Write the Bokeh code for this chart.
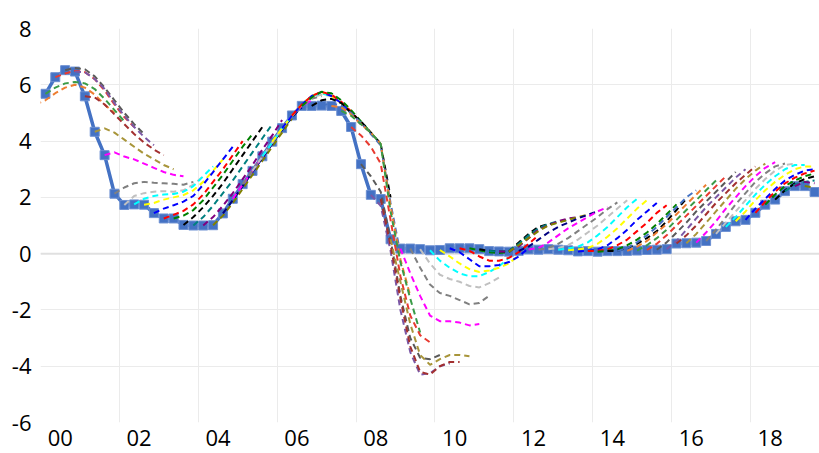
from bokeh.plotting import figure
from bokeh.models import FixedTicker, Span
from bokeh.embed import file_html
from bokeh.resources import INLINE

# Quarterly effective fed funds rate, 2000Q1 .. 2019Q3 (x = quarter index, 0 = 2000Q1)
fed_funds = [
    5.68, 6.27, 6.52, 6.47,
    5.59, 4.33, 3.50, 2.13,
    1.73, 1.75, 1.74, 1.44,
    1.25, 1.25, 1.02, 1.00,
    1.00, 1.01, 1.43, 1.95,
    2.47, 2.94, 3.46, 3.98,
    4.46, 4.91, 5.25, 5.25,
    5.26, 5.25, 5.07, 4.50,
    3.18, 2.09, 1.94, 0.51,
    0.18, 0.18, 0.16, 0.12,
    0.13, 0.19, 0.19, 0.19,
    0.16, 0.09, 0.08, 0.07,
    0.10, 0.15, 0.14, 0.16,
    0.14, 0.12, 0.08, 0.09,
    0.07, 0.09, 0.09, 0.10,
    0.11, 0.13, 0.14, 0.16,
    0.36, 0.37, 0.39, 0.45,
    0.70, 0.95, 1.15, 1.20,
    1.45, 1.74, 1.92, 2.22,
    2.40, 2.40, 2.19,
]

year_labels = ["00", "02", "04", "06", "08", "10", "12", "14", "16", "18"]
y_ticks = [-6, -4, -2, 0, 2, 4, 6, 8]

palette = [
    "#3A9B47", "#E83A30", "#5A5A5A", "#7B58A6", "#A33030", "#A8953A",
    "#FF00FF", "#808080", "#C0C0C0", "#00FFFF", "#FFFF00", "#0000FF",
    "#FF0000", "#008000", "#000000", "#008080", "#800080", "#808000",
    "#000080", "#FF00FF", "#808080", "#C0C0C0", "#00FFFF", "#FFFF00",
    "#0000FF", "#FF0000", "#008000", "#000000", "#4472C4", "#ED7D31",
]

# Expected paths, each starting at quarter index s and running 8 quarters ahead
path_m1 = [5.30, 5.45, 5.70, 5.90, 6.00, 5.90, 5.65, 5.30, 5.00]
path_00 = [5.68, 5.90, 6.05, 6.10, 6.05, 5.85, 5.50, 5.10, 4.70]
path_01 = [6.27, 6.40, 6.50, 6.45, 6.20, 5.80, 5.30, 4.85, 4.50]
path_02 = [6.52, 6.60, 6.55, 6.30, 5.90, 5.45, 5.00, 4.60, 4.25]
path_03 = [6.47, 6.45, 6.20, 5.85, 5.35, 4.90, 4.50, 4.15, 3.85]
path_04 = [5.59, 5.55, 5.30, 4.95, 4.60, 4.25, 3.95, 3.70, 3.50]
path_05 = [4.33, 4.45, 4.30, 4.05, 3.80, 3.55, 3.35, 3.15, 3.00]
path_06 = [3.50, 3.60, 3.45, 3.35, 3.20, 3.05, 2.90, 2.80, 2.75]
path_07 = [2.13, 2.35, 2.50, 2.55, 2.52, 2.50, 2.48, 2.45, 2.55]
path_08 = [1.73, 2.05, 2.15, 2.20, 2.22, 2.20, 2.25, 2.45, 2.75]
path_09 = [1.75, 1.95, 2.05, 2.10, 2.12, 2.20, 2.40, 2.75, 3.10]
path_10 = [1.74, 1.80, 1.92, 2.00, 2.08, 2.25, 2.55, 2.95, 3.35]
path_11 = [1.44, 1.60, 1.72, 1.85, 2.05, 2.45, 2.90, 3.35, 3.80]
path_12 = [1.25, 1.38, 1.52, 1.75, 2.10, 2.55, 3.00, 3.50, 4.00]
path_13 = [1.25, 1.35, 1.55, 1.90, 2.35, 2.80, 3.30, 3.80, 4.25]
path_14 = [1.02, 1.30, 1.65, 2.05, 2.50, 3.00, 3.50, 4.00, 4.50]
path_15 = [1.00, 1.30, 1.70, 2.15, 2.60, 3.10, 3.60, 4.10, 4.60]
path_16 = [1.00, 1.30, 1.70, 2.15, 2.65, 3.15, 3.70, 4.20, 4.75]
path_17 = [1.01, 1.35, 1.80, 2.30, 2.80, 3.30, 3.80, 4.30, 4.80]
path_18 = [1.43, 1.90, 2.40, 2.90, 3.40, 3.90, 4.40, 4.85, 5.20]
path_19 = [1.95, 2.45, 2.95, 3.45, 3.95, 4.45, 4.90, 5.25, 5.45]
path_20 = [2.47, 2.95, 3.45, 3.95, 4.45, 4.90, 5.25, 5.50, 5.60]
path_21 = [2.94, 3.45, 3.95, 4.45, 4.90, 5.30, 5.55, 5.65, 5.60]
path_22 = [3.46, 3.95, 4.45, 4.90, 5.30, 5.60, 5.70, 5.60, 5.40]
path_23 = [3.98, 4.45, 4.90, 5.30, 5.60, 5.75, 5.60, 5.35, 5.05]
path_24 = [4.46, 4.90, 5.30, 5.60, 5.75, 5.60, 5.35, 5.00, 4.60]
path_25 = [4.91, 5.30, 5.60, 5.75, 5.65, 5.40, 5.05, 4.65, 4.30]
path_26 = [5.25, 5.55, 5.75, 5.70, 5.45, 5.10, 4.70, 4.30, 3.90]
path_27 = [5.25, 5.45, 5.50, 5.35, 5.00, 4.70, 4.30, 3.90, 2.00]
path_28 = [5.26, 5.35, 5.25, 5.00, 4.65, 4.25, 3.85, 1.80, 0.00]
path_29 = [5.25, 5.20, 4.95, 4.60, 4.30, 3.90, 1.70, -0.20, -1.50]
path_30 = [5.07, 4.90, 4.60, 4.30, 3.90, 1.50, -0.30, -1.60, -2.80]
path_31 = [4.50, 4.20, 3.80, 3.20, 1.20, -0.80, -2.20, -2.90, -3.15]
path_32 = [3.18, 2.75, 2.20, 0.50, -1.50, -3.00, -3.70, -3.75, -3.60]
path_33 = [2.09, 1.70, 0.10, -2.00, -3.50, -4.30, -4.25, -4.00, -3.90]
path_34 = [1.94, 0.30, -1.60, -3.30, -4.20, -4.30, -4.00, -3.85, -3.85]
path_35 = [0.51, -1.00, -2.50, -3.60, -3.95, -3.75, -3.60, -3.60, -3.65]
path_36 = [0.18, -0.70, -1.50, -2.20, -2.40, -2.40, -2.45, -2.55, -2.50]
path_37 = [0.18, -0.50, -1.10, -1.40, -1.50, -1.65, -1.80, -1.75, -1.50]
path_38 = [0.16, -0.35, -0.75, -0.90, -1.00, -1.15, -1.20, -1.05, -0.85]
path_39 = [0.12, -0.25, -0.50, -0.70, -0.80, -0.80, -0.65, -0.45, -0.15]
path_40 = [0.13, -0.10, -0.35, -0.55, -0.65, -0.60, -0.50, -0.35, -0.05]
path_41 = [0.19, 0.05, -0.20, -0.45, -0.45, -0.40, -0.30, -0.10, 0.20]
path_42 = [0.19, 0.10, -0.10, -0.25, -0.25, -0.15, 0.05, 0.35, 0.65]
path_43 = [0.19, 0.12, 0.05, 0.02, 0.05, 0.35, 0.65, 0.90, 1.05]
path_44 = [0.16, 0.10, 0.08, 0.08, 0.40, 0.70, 0.95, 1.05, 1.10]
path_45 = [0.09, 0.08, 0.10, 0.35, 0.65, 0.90, 1.05, 1.15, 1.20]
path_46 = [0.08, 0.08, 0.25, 0.55, 0.85, 1.00, 1.15, 1.25, 1.30]
path_47 = [0.07, 0.30, 0.55, 0.80, 1.00, 1.10, 1.20, 1.30, 1.38]
path_48 = [0.10, 0.25, 0.50, 0.75, 0.95, 1.10, 1.25, 1.38, 1.50]
path_49 = [0.15, 0.20, 0.40, 0.65, 0.90, 1.10, 1.30, 1.50, 1.65]
path_50 = [0.14, 0.20, 0.35, 0.55, 0.80, 1.05, 1.30, 1.58, 1.82]
path_51 = [0.16, 0.20, 0.30, 0.50, 0.75, 1.00, 1.30, 1.60, 1.90]
path_52 = [0.14, 0.18, 0.25, 0.40, 0.65, 0.95, 1.30, 1.65, 1.95]
path_53 = [0.12, 0.15, 0.20, 0.35, 0.60, 0.90, 1.25, 1.60, 1.90]
path_54 = [0.08, 0.10, 0.15, 0.30, 0.55, 0.85, 1.20, 1.50, 1.80]
path_55 = [0.09, 0.10, 0.15, 0.30, 0.50, 0.80, 1.10, 1.45, 1.72]
path_56 = [0.07, 0.10, 0.15, 0.30, 0.50, 0.75, 1.05, 1.40, 1.75]
path_57 = [0.09, 0.10, 0.20, 0.35, 0.55, 0.80, 1.15, 1.55, 1.95]
path_58 = [0.09, 0.20, 0.40, 0.65, 0.95, 1.30, 1.65, 2.00, 2.25]
path_59 = [0.10, 0.25, 0.45, 0.75, 1.05, 1.40, 1.75, 2.10, 2.45]
path_60 = [0.11, 0.30, 0.55, 0.85, 1.20, 1.55, 1.90, 2.25, 2.60]
path_61 = [0.13, 0.35, 0.65, 1.00, 1.35, 1.70, 2.05, 2.40, 2.75]
path_62 = [0.14, 0.40, 0.75, 1.10, 1.50, 1.85, 2.20, 2.55, 2.90]
path_63 = [0.16, 0.45, 0.85, 1.25, 1.65, 2.00, 2.35, 2.70, 3.00]
path_64 = [0.36, 0.65, 1.00, 1.40, 1.80, 2.15, 2.50, 2.80, 3.10]
path_65 = [0.37, 0.70, 1.10, 1.50, 1.90, 2.30, 2.65, 2.95, 3.20]
path_66 = [0.39, 0.75, 1.15, 1.60, 2.00, 2.40, 2.75, 3.05, 3.25]
path_67 = [0.45, 0.85, 1.30, 1.75, 2.15, 2.55, 2.85, 3.10, 3.20]
path_68 = [0.70, 1.10, 1.50, 1.90, 2.30, 2.65, 2.95, 3.15, 3.20]
path_69 = [0.95, 1.30, 1.70, 2.10, 2.45, 2.75, 3.00, 3.15, 3.15]
path_70 = [1.15, 1.50, 1.90, 2.25, 2.55, 2.80, 3.00, 3.10, 3.10]
path_71 = [1.20, 1.60, 1.95, 2.30, 2.60, 2.80, 2.95, 3.00]
path_72 = [1.45, 1.85, 2.20, 2.50, 2.70, 2.85, 2.95]
path_73 = [1.74, 2.10, 2.40, 2.60, 2.75, 2.85]
path_74 = [1.92, 2.25, 2.50, 2.65, 2.75]
path_75 = [2.22, 2.45, 2.55, 2.60]
path_76 = [2.40, 2.55, 2.50]
path_77 = [2.40, 2.35]

paths = [
    (-1, path_m1), (0, path_00), (1, path_01), (2, path_02), (3, path_03),
    (4, path_04), (5, path_05), (6, path_06), (7, path_07), (8, path_08),
    (9, path_09), (10, path_10), (11, path_11), (12, path_12), (13, path_13),
    (14, path_14), (15, path_15), (16, path_16), (17, path_17), (18, path_18),
    (19, path_19), (20, path_20), (21, path_21), (22, path_22), (23, path_23),
    (24, path_24), (25, path_25), (26, path_26), (27, path_27), (28, path_28),
    (29, path_29), (30, path_30), (31, path_31), (32, path_32), (33, path_33),
    (34, path_34), (35, path_35), (36, path_36), (37, path_37), (38, path_38),
    (39, path_39), (40, path_40), (41, path_41), (42, path_42), (43, path_43),
    (44, path_44), (45, path_45), (46, path_46), (47, path_47), (48, path_48),
    (49, path_49), (50, path_50), (51, path_51), (52, path_52), (53, path_53),
    (54, path_54), (55, path_55), (56, path_56), (57, path_57), (58, path_58),
    (59, path_59), (60, path_60), (61, path_61), (62, path_62), (63, path_63),
    (64, path_64), (65, path_65), (66, path_66), (67, path_67), (68, path_68),
    (69, path_69), (70, path_70), (71, path_71), (72, path_72), (73, path_73),
    (74, path_74), (75, path_75), (76, path_76), (77, path_77),
]

p = figure(
    width=819, height=453, output_backend="svg", toolbar_location=None,
    x_range=(-0.5, 78.5), y_range=(-6, 8),
    min_border_left=40, min_border_right=0, min_border_top=28, min_border_bottom=31,
)
p.outline_line_color = None
p.background_fill_color = "white"
p.border_fill_color = "white"

# grid
p.xgrid.ticker = FixedTicker(ticks=[7.5 + 8 * k for k in range(10)])
p.xgrid.grid_line_color = "#EBEBEB"
p.xgrid.grid_line_width = 1
p.ygrid.ticker = FixedTicker(ticks=y_ticks)
p.ygrid.grid_line_color = "#EBEBEB"
p.ygrid.grid_line_width = 1
zero = Span(location=0, dimension="width", line_color="#E0E0E0", line_width=2, level="underlay")
p.add_layout(zero)

# axes
label_pos = [1.5 + 8 * k for k in range(len(year_labels))]
p.xaxis.ticker = FixedTicker(ticks=label_pos)
p.xaxis.major_label_overrides = {pos: lab for pos, lab in zip(label_pos, year_labels)}
p.yaxis.ticker = FixedTicker(ticks=y_ticks)
p.yaxis.major_label_overrides = {t: str(t) for t in y_ticks}
for ax in (p.xaxis, p.yaxis):
    ax.axis_line_color = None
    ax.major_tick_line_color = None
    ax.minor_tick_line_color = None
    ax.major_tick_out = 0
    ax.major_tick_in = 0
    ax.major_label_text_font = "Open Sans"
    ax.major_label_text_font_size = "22px"
    ax.major_label_text_color = "#000000"
p.yaxis.major_label_standoff = 9
p.xaxis.major_label_standoff = 7

# actual rate
qx = list(range(len(fed_funds)))
p.line(qx, fed_funds, line_color="#4472C4", line_width=3.5)
p.scatter(qx, fed_funds, marker="square", size=9, fill_color="#4472C4", line_color="#6D90D2", line_width=1)

# expected paths
for s, vals in paths:
    xs = list(range(s, s + len(vals)))
    p.line(xs, vals, line_color=palette[s % 30], line_width=2, line_dash="6 4")

open("out.html", "w").write(file_html(p, INLINE))
